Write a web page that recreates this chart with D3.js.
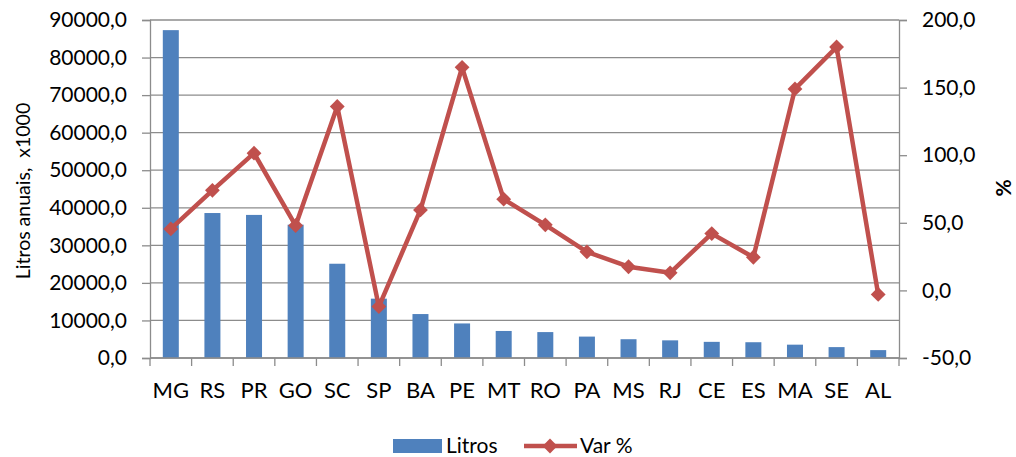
<!DOCTYPE html>
<html><head><meta charset="utf-8">
<script src="https://cdn.jsdelivr.net/npm/d3@7"></script>
<style>
html,body{margin:0;padding:0;background:#fff;}
text{font-family:Lato, "Open Sans", sans-serif;fill:#000;}
</style></head>
<body><svg id="c" width="1016" height="457"></svg>
<script>
const categories = ["MG","RS","PR","GO","SC","SP","BA","PE","MT","RO","PA","MS","RJ","CE","ES","MA","SE","AL"];
const litros = [87300,38600,38100,35500,25100,15800,11700,9200,7200,6900,5700,5000,4700,4300,4200,3550,2900,2100];
const varPct = [45.5,74,101.5,48,136,-12,59.5,165,67.5,48.5,28.5,17.5,13,42,24.5,149,180,-3];
const leftTicks = [0,10000,20000,30000,40000,50000,60000,70000,80000,90000];
const rightTicks = [-50,0,50,100,150,200];

const svg = d3.select("#c");
const L = 150, R = 899, T = 20, B = 358;
const fmt = d => d3.format(".1f")(d).replace(".", ",").replace("\u2212", "-");

const x = d3.scaleBand().domain(categories).range([L, R]).paddingInner(0).paddingOuter(0);
const yL = d3.scaleLinear().domain([0, 90000]).range([B, T]);
const yR = d3.scaleLinear().domain([-50, 200]).range([B, T]);

// gridlines
svg.append("g").selectAll("line").data(leftTicks).join("line")
  .attr("x1", L).attr("x2", R)
  .attr("y1", d => yL(d)).attr("y2", d => yL(d))
  .attr("stroke", "#8c8c8c").attr("stroke-width", 1.3);

// left axis
const gL = svg.append("g").attr("transform", `translate(${L},0)`)
  .call(d3.axisLeft(yL).tickValues(leftTicks).tickFormat(fmt).tickSize(8).tickPadding(15));
gL.select(".domain").attr("stroke", "#8c8c8c").attr("stroke-width", 1.3);
gL.selectAll(".tick line").attr("stroke", "#8c8c8c").attr("stroke-width", 1.3);
gL.selectAll(".tick text").style("font-family", "Lato").style("font-size", "21px").attr("fill", "#000");

// right axis
const gR = svg.append("g").attr("transform", `translate(${R},0)`)
  .call(d3.axisRight(yR).tickValues(rightTicks).tickFormat(fmt).tickSize(8).tickPadding(15));
gR.select(".domain").attr("stroke", "#8c8c8c").attr("stroke-width", 1.3);
gR.selectAll(".tick line").attr("stroke", "#8c8c8c").attr("stroke-width", 1.3);
gR.selectAll(".tick text").style("font-family", "Lato").style("font-size", "21px").attr("fill", "#000");

// bars
const bw = 16;
svg.append("g").selectAll("rect").data(categories).join("rect")
  .attr("x", d => x(d) + x.bandwidth()/2 - bw/2)
  .attr("width", bw)
  .attr("y", (d,i) => yL(litros[i]))
  .attr("height", (d,i) => yL(0) - yL(litros[i]))
  .attr("fill", "#4F81BD");

// bottom axis
svg.append("line").attr("x1", L).attr("x2", R).attr("y1", B).attr("y2", B)
  .attr("stroke", "#8c8c8c").attr("stroke-width", 1.3);
const bounds = categories.map(c => x(c)).concat([R]);
svg.append("g").selectAll("line").data(bounds).join("line")
  .attr("x1", d => d).attr("x2", d => d).attr("y1", B).attr("y2", B + 8)
  .attr("stroke", "#8c8c8c").attr("stroke-width", 1.3);
svg.append("g").selectAll("text").data(categories).join("text")
  .attr("x", d => x(d) + x.bandwidth()/2).attr("y", 398)
  .attr("text-anchor", "middle").style("font-size", "22px").text(d => d);

// line
const pts = categories.map((c,i) => [x(c) + x.bandwidth()/2, yR(varPct[i])]);
svg.append("path").attr("d", d3.line()(pts)).attr("fill", "none")
  .attr("stroke", "#C0504D").attr("stroke-width", 4.5).attr("stroke-linejoin", "round");
svg.append("g").selectAll("path").data(pts).join("path")
  .attr("transform", d => `translate(${d[0]},${d[1]}) rotate(45)`)
  .attr("d", d3.symbol().type(d3.symbolSquare).size(110))
  .attr("fill", "#C0504D");

// axis titles
svg.append("text").attr("transform", "translate(30,191) rotate(-90)")
  .attr("text-anchor", "middle").style("font-size", "19.5px").style("white-space", "pre")
  .attr("xml:space", "preserve").text("Litros anuais,  x1000");
svg.append("text").attr("transform", "translate(1011,188) rotate(-90)")
  .attr("text-anchor", "middle").style("font-size", "21px").style("font-weight", "bold").text("%");

// legend
svg.append("rect").attr("x", 393).attr("y", 439).attr("width", 49).attr("height", 14).attr("fill", "#4F81BD");
svg.append("text").attr("x", 446).attr("y", 453).style("font-size", "21px").text("Litros");
svg.append("line").attr("x1", 524).attr("x2", 577).attr("y1", 446).attr("y2", 446)
  .attr("stroke", "#C0504D").attr("stroke-width", 4.5);
svg.append("path").attr("transform", "translate(550,446) rotate(45)")
  .attr("d", d3.symbol().type(d3.symbolSquare).size(110)).attr("fill", "#C0504D");
svg.append("text").attr("x", 580).attr("y", 453).style("font-size", "21px").text("Var %");
</script></body></html>
